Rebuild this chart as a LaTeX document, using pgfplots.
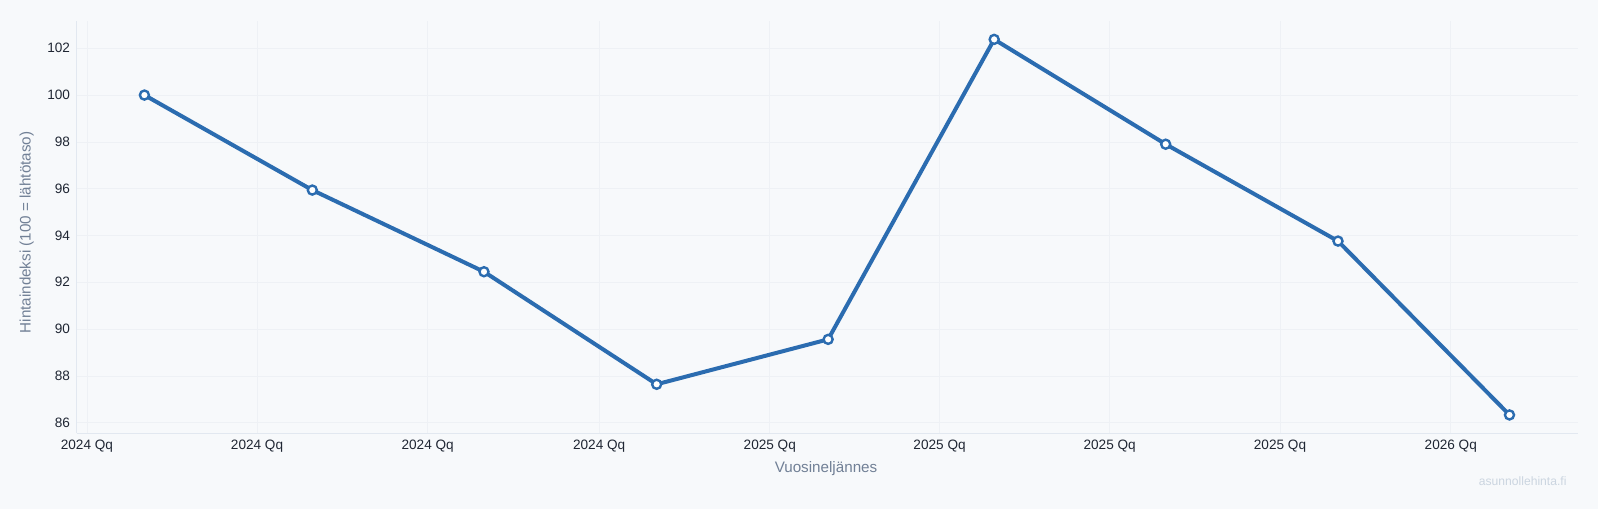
\documentclass[border=0pt]{standalone}
\usepackage{fontspec}
\setmainfont{Liberation Sans}
\usepackage{pgfplots}
\pgfplotsset{compat=1.18}
\definecolor{bg}{HTML}{F7F9FB}
\definecolor{linec}{HTML}{2B6CB0}
\definecolor{gridc}{HTML}{EEF1F5}
\definecolor{axisc}{HTML}{E2E8F0}
\definecolor{tickc}{HTML}{1F2633}
\definecolor{labc}{HTML}{718096}
\definecolor{wm}{HTML}{CBD5E0}
\begin{document}
\begin{tikzpicture}
\fill[bg] (0,0) rectangle (1198.5pt,381.75pt);
\useasboundingbox (0,0) rectangle (1198.5pt,381.75pt);
\begin{axis}[
  at={(57.5pt,56.8pt)}, anchor=south west,
  scale only axis, width=1125.75pt, height=309.45pt,
  xmin=-0.397, xmax=8.4, ymin=85.547, ymax=103.18,
  axis x line*=bottom, axis y line*=left,
  axis line style={draw=axisc, line width=0.8pt, -},
  xtick={-0.337,0.66,1.66,2.665,3.665,4.66,5.657,6.655,7.656},
  xticklabels={2024 Qq,2024 Qq,2024 Qq,2024 Qq,2025 Qq,2025 Qq,2025 Qq,2025 Qq,2026 Qq},
  ytick={86,88,...,102},
  grid=major, major grid style={draw=gridc, line width=0.5pt},
  major tick length=0pt, tick style={draw=none},
  /pgf/number format/assume math mode=true,
  tick label style={font=\fontsize{10.2}{12}\selectfont, text=tickc},
  yticklabel style={xshift=-1.5pt},
  xticklabel style={yshift=-1.2pt},
  xlabel={Vuosineljännes},
  ylabel={Hintaindeksi (100 = lähtötaso)},
  label style={font=\fontsize{11.4}{13}\selectfont, text=labc},
  xlabel style={at={(axis description cs:0.4992,-0.0865)}, anchor=center},
  ylabel style={at={(axis description cs:-0.0333,0.4867)}, anchor=center, rotate=0},
  clip=false,
]
\addplot[draw=linec, line width=3pt, mark=*, mark size=3.4pt,
  mark options={fill=white, draw=linec, line width=1.8pt}]
  coordinates {
  (0,100.00) (0.984,95.94) (1.990,92.45) (3.002,87.64) (4.007,89.56)
  (4.980,102.38) (5.985,97.90) (6.995,93.76) (8.0,86.33)
  };
\end{axis}
\node[font=\fontsize{9.1}{11}\selectfont, text=wm, anchor=center] at (1142pt,21pt) {asunnollehinta.fi};
\end{tikzpicture}
\end{document}
